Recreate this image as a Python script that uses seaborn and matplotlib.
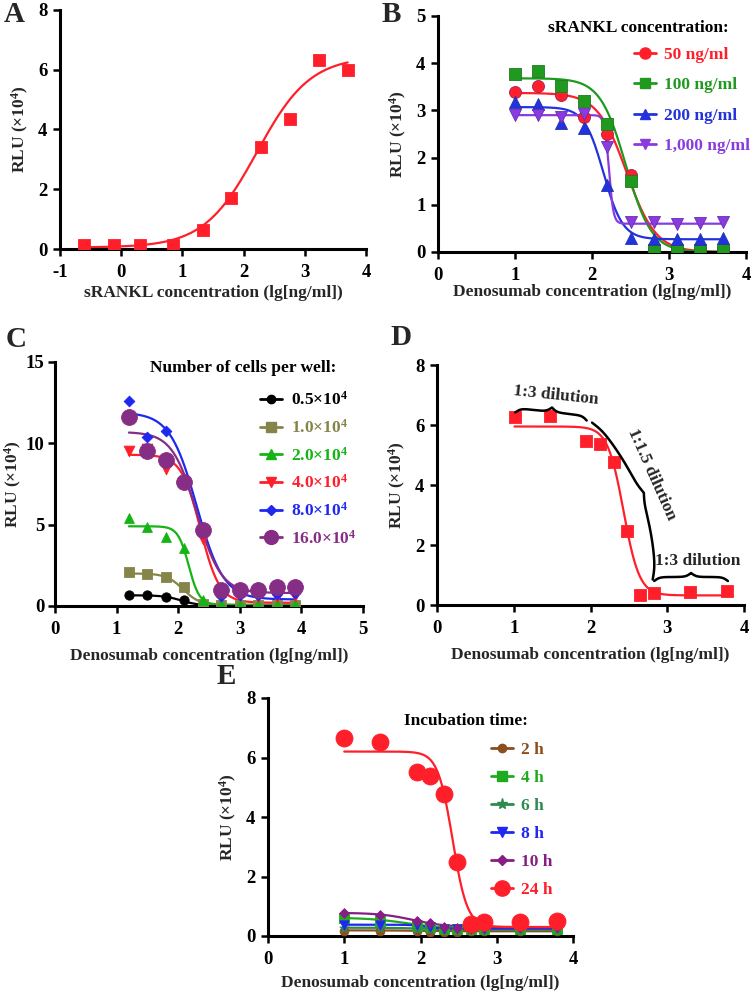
import numpy as np
import seaborn as sns
import matplotlib

matplotlib.use("Agg")
import matplotlib.pyplot as plt
from matplotlib.lines import Line2D

# ---------------- data ----------------
# A: sRANKL dose response
a_x = [-0.6, -0.12, 0.3, 0.85, 1.33, 1.8, 2.28, 2.75, 3.23, 3.7]
a_y = [0.15, 0.15, 0.12, 0.13, 0.62, 1.72, 3.42, 4.35, 6.33, 5.98]
a_fit = (0.05, 6.45, 2.22, -1.0)  # bottom, top, ec50, hill

# B: denosumab at several sRANKL concentrations
b_x = [1.0, 1.3, 1.6, 1.9, 2.2, 2.5, 2.8, 3.1, 3.4, 3.7]
b_labels = ["50 ng/ml", "100 ng/ml", "200 ng/ml", "1,000 ng/ml"]
b_y50 = [3.38, 3.51, 3.33, 2.86, 2.51, 1.63, 0.07, 0.07, 0.07, 0.07]
b_y100 = [3.77, 3.83, 3.51, 3.20, 2.72, 1.50, 0.05, 0.05, 0.05, 0.05]
b_y200 = [3.18, 3.13, 2.74, 2.63, 1.41, 0.30, 0.28, 0.28, 0.28, 0.30]
b_y1000 = [2.91, 2.90, 2.86, 2.93, 2.23, 0.64, 0.64, 0.60, 0.61, 0.63]
b_fits = [(0.0, 3.37, 2.45, 2.3), (0.0, 3.68, 2.44, 2.6),
          (0.27, 3.07, 2.15, 3.5), (0.60, 2.90, 2.22, 15.0)]

# C: number of cells per well
c_x = [1.2, 1.5, 1.8, 2.1, 2.4, 2.7, 3.0, 3.3, 3.6, 3.9]
c_labels = ["0.5×10$^{4}$", "1.0×10$^{4}$", "2.0×10$^{4}$",
            "4.0×10$^{4}$", "8.0×10$^{4}$", "16.0×10$^{4}$"]
c_y05 = [0.68, 0.68, 0.57, 0.37, 0.02, 0.02, 0.02, 0.02, 0.02, 0.02]
c_y10 = [2.10, 1.94, 1.78, 1.15, 0.10, 0.05, 0.05, 0.05, 0.05, 0.05]
c_y20 = [5.38, 4.87, 4.22, 3.54, 0.35, 0.10, 0.10, 0.10, 0.10, 0.10]
c_y40 = [9.53, 9.64, 8.45, 7.57, 4.10, 0.68, 0.60, 0.55, 0.55, 0.60]
c_y80 = [12.6, 10.4, 10.74, 7.63, 4.67, 0.60, 0.70, 0.70, 0.75, 0.80]
c_y160 = [11.62, 9.54, 9.00, 7.63, 4.67, 0.96, 0.98, 0.97, 1.15, 1.19]
c_fits = [(0.02, 0.66, 2.05, 3.0), (0.05, 2.0, 2.08, 3.2),
          (0.08, 4.9, 2.17, 5.0), (0.20, 9.3, 2.36, 2.8),
          (0.40, 11.9, 2.30, 2.0), (0.80, 10.7, 2.30, 2.2)]

# D: dilution scheme
d_x = [1.01, 1.47, 1.94, 2.13, 2.30, 2.48, 2.65, 2.83, 3.30, 3.78]
d_y = [6.28, 6.31, 5.48, 5.36, 4.76, 2.48, 0.32, 0.39, 0.42, 0.47]
d_fit = (0.32, 5.95, 2.43, 4.2)

# E: incubation time
e_x = [1.0, 1.47, 1.95, 2.13, 2.31, 2.48, 2.66, 2.83, 3.31, 3.79]
e_labels = ["2 h", "4 h", "6 h", "8 h", "10 h", "24 h"]
e_y2 = [0.18, 0.18, 0.17, 0.15, 0.15, 0.15, 0.16, 0.17, 0.18, 0.18]
e_y4 = [0.60, 0.52, 0.35, 0.30, 0.25, 0.22, 0.22, 0.22, 0.23, 0.23]
e_y6 = [0.28, 0.27, 0.25, 0.24, 0.22, 0.22, 0.22, 0.23, 0.24, 0.25]
e_y8 = [0.38, 0.38, 0.36, 0.30, 0.25, 0.24, 0.25, 0.25, 0.26, 0.27]
e_y10 = [0.78, 0.72, 0.50, 0.45, 0.30, 0.28, 0.29, 0.30, 0.30, 0.31]
e_y24 = [6.67, 6.53, 5.50, 5.38, 4.77, 2.48, 0.39, 0.47, 0.47, 0.50]
e_fits = [(0.16, 0.19, 2.0, 2.0), (0.22, 0.62, 1.85, 1.6),
          (0.22, 0.28, 2.0, 2.0), (0.25, 0.38, 2.05, 5.0),
          (0.30, 0.78, 1.90, 2.0), (0.30, 6.20, 2.42, 4.5)]

# ---------------- style ----------------
sns.set_theme(style="ticks")
plt.rcParams["font.family"] = ["Liberation Serif", "DejaVu Serif"]
plt.rcParams["font.weight"] = "bold"
plt.rcParams["axes.labelweight"] = "bold"
plt.rcParams["axes.unicode_minus"] = False
plt.rcParams["mathtext.fontset"] = "custom"
plt.rcParams["mathtext.rm"] = "Liberation Serif:bold"
plt.rcParams["mathtext.bf"] = "Liberation Serif:bold"
plt.rcParams["mathtext.it"] = "Liberation Serif:bold:italic"
plt.rcParams["mathtext.default"] = "bf"

W, H = 752, 992
fig = plt.figure(figsize=(W / 100, H / 100), dpi=100)
fig.patch.set_facecolor("white")


def make_axes(left, right, top, bottom):
    return fig.add_axes([left / W, 1 - bottom / H, (right - left) / W, (bottom - top) / H])


def sigmoid(x, bottom, top, ec50, hill):
    x = np.asarray(x, dtype=float)
    return bottom + (top - bottom) / (1 + 10 ** (hill * (x - ec50)))


def style_axes(ax, xlim, xticks, ylim, yticks, xlabel, xpad, ypad=5, ytickpad=4):
    ax.set_facecolor("white")
    ax.set_xlim(*xlim)
    ax.set_ylim(*ylim)
    ax.set_xticks(xticks)
    ax.set_yticks(yticks)
    for side in ["top", "right"]:
        ax.spines[side].set_visible(False)
    for side in ["left", "bottom"]:
        ax.spines[side].set_linewidth(2.2)
        ax.spines[side].set_color("black")
    ax.tick_params(direction="out", length=5, width=1.8, labelsize=13.5, colors="black")
    ax.tick_params(axis="x", pad=6)
    ax.tick_params(axis="y", pad=ytickpad)
    for lab in ax.get_xticklabels() + ax.get_yticklabels():
        lab.set_fontweight("bold")
    ax.set_xlabel(xlabel, fontsize=12.5, labelpad=xpad)
    ax.set_ylabel("RLU (×10$^{4}$)", fontsize=12.5, labelpad=ypad)
    ax.grid(False)


def draw_series(ax, x, y, fit, color, marker, size, edge=None, lw=1.6):
    xs = np.linspace(min(x), max(x), 300)
    sns.lineplot(x=xs, y=sigmoid(xs, *fit), ax=ax, color=color, lw=lw,
                 estimator=None, sort=False, zorder=2)
    sns.scatterplot(x=x, y=y, ax=ax, color=color, marker=marker, s=size,
                    edgecolor=edge if edge else color, linewidth=0.6, zorder=3)


def add_legend(ax, labels, colors, markers, msizes, anchor, spacing):
    handles = [Line2D([], [], color=c, marker=m, markersize=ms, lw=2)
               for c, m, ms in zip(colors, markers, msizes)]
    ax.legend(handles, labels, loc="upper left", bbox_to_anchor=anchor, frameon=False,
              fontsize=12.5, labelcolor=colors, handlelength=1.25, handletextpad=0.5,
              labelspacing=spacing, borderpad=0, borderaxespad=0)


def brace(ax, p0, p1, width, bow=0.0, beta=28.0):
    tr = ax.transData
    a = tr.transform(p0)
    b = tr.transform(p1)
    d = b - a
    length = np.hypot(*d)
    u = d / length
    n = np.array([-u[1], u[0]])
    t = np.linspace(0, 0.5, 150)
    g = 1 / (1 + np.exp(-beta * t)) + 1 / (1 + np.exp(-beta * (t - 0.5)))
    g = (g - g[0]) / (g[-1] - g[0])
    prof = np.concatenate([g, g[::-1][1:]])
    s = np.linspace(0, 1, len(prof))
    off = width * prof + bow * np.sin(np.pi * s)
    pts = a[None, :] + np.outer(s * length, u) + np.outer(off, n)
    data = tr.inverted().transform(pts)
    ax.plot(data[:, 0], data[:, 1], color="black", lw=1.8, zorder=4)


RED = "#ff1f2a"
xlab_d = "Denosumab concentration (lg[ng/ml])"

# ---------------- A ----------------
axA = make_axes(60, 366, 10, 249)
draw_series(axA, a_x, a_y, a_fit, RED, "s", 75)
style_axes(axA, (-1, 4), range(-1, 5), (0, 8), range(0, 9, 2),
           "sRANKL concentration (lg[ng/ml])", 3)

# ---------------- B ----------------
axB = make_axes(438, 746, 16, 252)
b_colors = [RED, "#1f9a1f", "#2233dd", "#8a3be0"]
b_markers = ["o", "s", "^", "v"]
b_edges = ["#a0205a", "#1f7a1f", "#2233aa", "#6a2bb0"]
for ys, fit, c, m, e in zip([b_y50, b_y100, b_y200, b_y1000], b_fits, b_colors, b_markers, b_edges):
    draw_series(axB, b_x, ys, fit, c, m, 75, edge=e)
style_axes(axB, (0, 4), range(0, 5), (0, 5), range(0, 6), xlab_d, 0)
axB.text(0.65, 0.95, "sRANKL concentration:", transform=axB.transAxes, ha="center",
         va="center", fontsize=12.5, fontweight="bold", color="black")
add_legend(axB, b_labels, b_colors, b_markers, [8, 7, 7, 7], (0.636, 0.87), 0.82)

# ---------------- C ----------------
axC = make_axes(55, 363, 362, 606)
c_colors = ["#000000", "#85854a", "#14b414", "#ff1f2a", "#1e28f0", "#862d86"]
c_markers = ["o", "s", "^", "v", "D", "o"]
c_sizes = [45, 55, 50, 60, 30, 130]
for ys, fit, c, m, sz in zip([c_y05, c_y10, c_y20, c_y40, c_y80, c_y160], c_fits, c_colors, c_markers, c_sizes):
    draw_series(axC, c_x, ys, fit, c, m, sz)
style_axes(axC, (0, 5), range(0, 6), (0, 15), range(0, 16, 5), xlab_d, 7, ypad=1, ytickpad=2.5)
axC.text(0.61, 0.975, "Number of cells per well:", transform=axC.transAxes, ha="center",
         va="center", fontsize=12.5, fontweight="bold", color="black")
add_legend(axC, c_labels, c_colors, c_markers, [6, 7, 7, 7, 5, 10], (0.666, 0.88), 0.56)

# ---------------- D ----------------
axD = make_axes(437, 744, 365, 605)
draw_series(axD, d_x, d_y, d_fit, RED, "s", 80)
style_axes(axD, (0, 4), range(0, 5), (0, 8), range(0, 9, 2), xlab_d, 7)
brace(axD, (1.02, 6.42), (1.95, 6.15), 9)
brace(axD, (2.02, 6.08), (2.81, 0.85), 8, bow=15)
brace(axD, (2.83, 0.80), (3.79, 0.80), 8)
axD.text(1.55, 6.98, "1:3 dilution", rotation=-6, ha="center", va="center", fontsize=12.5)
axD.text(2.8, 4.35, "1:1.5 dilution", rotation=-66, ha="center", va="center", fontsize=12.5)
axD.text(3.4, 1.47, "1:3 dilution", ha="center", va="center", fontsize=12.5)

# ---------------- E ----------------
axE = make_axes(268, 573, 698, 936)
e_colors = ["#8b4e1e", "#1faa1f", "#2e8b50", "#1e28f0", "#861e86", "#ff1f2a"]
e_markers = ["o", "s", "*", "v", "D", "o"]
e_sizes = [40, 60, 50, 45, 25, 150]
for ys, fit, c, m, sz in zip([e_y2, e_y4, e_y6, e_y8, e_y10, e_y24], e_fits, e_colors, e_markers, e_sizes):
    draw_series(axE, e_x, ys, fit, c, m, sz)
style_axes(axE, (0, 4), range(0, 5), (0, 8), range(0, 9, 2), xlab_d, 5)
axE.text(0.649, 0.903, "Incubation time:", transform=axE.transAxes, ha="center",
         va="center", fontsize=12.5, fontweight="bold", color="black")
add_legend(axE, e_labels, e_colors, e_markers, [6, 7, 8, 7, 5, 11], (0.731, 0.815), 0.68)

# ---------------- panel letters ----------------
for letter, px, py in [("A", 4, 1), ("B", 382, 1), ("C", 6, 326), ("D", 390, 324), ("E", 217, 663)]:
    fig.text(px / W, 1 - py / H, letter, fontsize=21, fontweight="bold", ha="left", va="top")

fig.savefig("out.png", dpi=100, facecolor="white")
